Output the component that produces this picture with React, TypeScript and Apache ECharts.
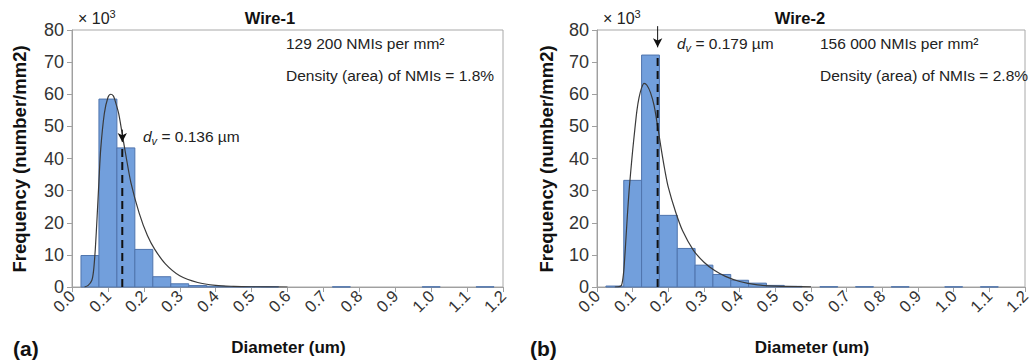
import React, { useEffect, useRef } from "react";
import * as echarts from "echarts";

const FONT = "'Liberation Sans', Arial, sans-serif";
const BIN_WIDTH = 0.05;

// Histogram bins (bin centre in µm, frequency ×10³ per mm²)
const wire1Bins = [0.05, 0.1, 0.15, 0.2, 0.25, 0.3, 0.35, 0.4, 0.45, 0.5, 0.55, 0.75, 1.0, 1.15];
const wire1Freq = [9.8, 58.5, 43.3, 11.7, 3.2, 1.0, 0.45, 0.25, 0.15, 0.1, 0.08, 0.06, 0.06, 0.06];

const wire2Bins = [0.05, 0.1, 0.15, 0.2, 0.25, 0.3, 0.35, 0.4, 0.45, 0.5, 0.55, 0.65, 0.75, 0.85, 1.0, 1.1];
const wire2Freq = [0.3, 33.2, 72.2, 22.3, 12.0, 6.8, 3.9, 2.1, 1.2, 0.5, 0.2, 0.1, 0.1, 0.08, 0.06, 0.06];

// Fitted distribution curves
const wire1FitX = [0.035, 0.045, 0.055, 0.06, 0.065, 0.07, 0.075, 0.08, 0.09, 0.1, 0.108, 0.115, 0.12, 0.13, 0.14, 0.15, 0.164, 0.187, 0.21, 0.23, 0.26, 0.3, 0.35, 0.4, 0.45, 0.5, 0.6];
const wire1FitY = [0, 0.5, 2, 5, 12, 22, 33, 43, 54, 59, 60, 59.5, 58, 54, 47.5, 41, 32.5, 23, 16, 11.8, 7.2, 3.5, 1.4, 0.5, 0.2, 0.08, 0];

const wire2FitX = [0.05, 0.065, 0.07, 0.075, 0.08, 0.085, 0.09, 0.095, 0.1, 0.106, 0.112, 0.118, 0.125, 0.132, 0.14, 0.15, 0.16, 0.17, 0.18, 0.19, 0.2, 0.22, 0.24, 0.27, 0.3, 0.33, 0.36, 0.4, 0.45, 0.5, 0.6];
const wire2FitY = [0, 0.2, 1, 5, 13, 22, 30, 36.5, 42.5, 49, 55, 59, 62, 63.4, 62.8, 60.5, 56.5, 50, 43, 36.5, 31, 23.5, 17.5, 11.5, 7.7, 5.1, 3.3, 1.7, 0.65, 0.25, 0.05];

// Mean volume diameter markers
const dvLabels = ["0.136", "0.179"];
const dvLineX = [0.14, 0.17];
const dvLineTop = [43.3, 72.2];
const dvArrowFrom = [49, 81.2];
const dvArrowHead = [45.1, 74.6];

const titles = ["Wire-1", "Wire-2"];
const countTexts = ["129 200 NMIs per mm²", "156 000 NMIs per mm²"];
const densityTexts = ["Density (area) of NMIs = 1.8%", "Density (area) of NMIs = 2.8%"];
const panelLetters = ["(a)", "(b)"];

const grids = [
  { left: 72, top: 30, width: 431, height: 257 },
  { left: 597, top: 30, width: 428, height: 257 },
];

export default function App() {
  const ref = useRef<HTMLDivElement>(null);
  useEffect(() => {
    if (!ref.current) return;
    const chart = echarts.init(ref.current, undefined, { renderer: "svg" });

    const bins = [wire1Bins, wire2Bins];
    const freqs = [wire1Freq, wire2Freq];
    const fitX = [wire1FitX, wire2FitX];
    const fitY = [wire1FitY, wire2FitY];

    const xAxes = grids.map((_, i) => ({
      type: "value",
      gridIndex: i,
      min: 0,
      max: 1.2,
      interval: 0.1,
      axisLine: { show: true, lineStyle: { color: "#a0a0a0" } },
      axisTick: { show: true, length: 5, lineStyle: { color: "#a0a0a0" } },
      splitLine: { show: false },
      axisLabel: {
        rotate: 45,
        fontSize: 16.5,
        color: "#333",
        fontFamily: FONT,
        margin: 6,
        formatter: (v: number) => v.toFixed(1),
      },
    }));
    const yAxes = grids.map((_, i) => ({
      type: "value",
      gridIndex: i,
      min: 0,
      max: 80,
      interval: 10,
      axisLine: { show: true, lineStyle: { color: "#a0a0a0" } },
      axisTick: { show: true, length: 5, lineStyle: { color: "#a0a0a0" } },
      splitLine: { show: false },
      axisLabel: { fontSize: 18, color: "#333", fontFamily: FONT, margin: 8 },
    }));

    const series: any[] = [];
    grids.forEach((_, i) => {
      series.push({
        type: "custom",
        xAxisIndex: i,
        yAxisIndex: i,
        data: bins[i].map((b, k) => [b, freqs[i][k]]),
        encode: { x: 0, y: 1 },
        renderItem: (_p: any, api: any) => {
          const x = api.value(0);
          const y = api.value(1);
          const p0 = api.coord([x - BIN_WIDTH / 2, y]);
          const p1 = api.coord([x + BIN_WIDTH / 2, 0]);
          return {
            type: "rect",
            shape: { x: p0[0], y: p0[1], width: p1[0] - p0[0], height: p1[1] - p0[1] },
            style: { fill: "#729fdc", stroke: "#4f74ad", lineWidth: 1 },
          };
        },
      });
      series.push({
        type: "line",
        xAxisIndex: i,
        yAxisIndex: i,
        data: fitX[i].map((x, k) => [x, fitY[i][k]]),
        smooth: 0.3,
        showSymbol: false,
        symbol: "none",
        lineStyle: { color: "#3a3a3a", width: 1.2 },
      });
      // dashed dv line
      series.push({
        type: "line",
        xAxisIndex: i,
        yAxisIndex: i,
        data: [
          [dvLineX[i], 0],
          [dvLineX[i], dvLineTop[i]],
        ],
        symbol: "none",
        clip: false,
        lineStyle: { color: "#111", width: 2, type: [8, 5] },
      });
      // arrow
      series.push({
        type: "line",
        xAxisIndex: i,
        yAxisIndex: i,
        clip: false,
        showSymbol: true,
        data: [
          { value: [dvLineX[i], dvArrowFrom[i]], symbol: "none" },
          { value: [dvLineX[i], dvArrowHead[i]], symbol: "arrow", symbolSize: [7, 9], symbolRotate: 180 },
        ],
        itemStyle: { color: "#111" },
        lineStyle: { color: "#111", width: 1 },
      });
    });

    const txt = (x: number, y: number, text: string, extra: any = {}) => ({
      type: "text",
      x,
      y,
      silent: true,
      style: {
        text,
        fontFamily: FONT,
        fontSize: 15.5,
        fill: "#222",
        textVerticalAlign: "middle",
        ...extra,
      },
    });

    const dvText = (x: number, y: number, val: string) => ({
      type: "text",
      x,
      y,
      silent: true,
      style: {
        text: `{d|d}{v|v}{n| = ${val} µm}`,
        fontFamily: FONT,
        fill: "#222",
        textVerticalAlign: "middle",
        rich: {
          d: { fontStyle: "italic", fontSize: 15.5, fontFamily: FONT, lineHeight: 20, verticalAlign: "middle" },
          v: { fontStyle: "italic", fontSize: 11, fontFamily: FONT, lineHeight: 10, verticalAlign: "bottom" },
          n: { fontSize: 15.5, fontFamily: FONT, lineHeight: 20, verticalAlign: "middle" },
        },
      },
    });

    const tenCubed = (x: number, y: number) => ({
      type: "text",
      x,
      y,
      silent: true,
      style: {
        text: "{b|× 10}{s|3}",
        fontFamily: FONT,
        fill: "#222",
        textVerticalAlign: "middle",
        rich: {
          b: { fontSize: 16, fontFamily: FONT, lineHeight: 20, verticalAlign: "middle" },
          s: { fontSize: 11, fontFamily: FONT, lineHeight: 11, verticalAlign: "top" },
        },
      },
    });

    const titleX = [270, 800];
    const textX = [286, 820];
    const yNameX = [19, 546];
    const letterX = [13, 530];
    const graphic: any[] = [];
    [0, 1].forEach((i) => {
      graphic.push(txt(titleX[i], 18, titles[i], { fontWeight: "bold", fontSize: 16.5, textAlign: "center", fill: "#111" }));
      graphic.push(tenCubed(grids[i].left + 6, 18));
      graphic.push(txt(textX[i], 43, countTexts[i]));
      graphic.push(txt(textX[i], 75, densityTexts[i]));
      graphic.push({
        type: "text",
        x: yNameX[i],
        y: 159,
        rotation: Math.PI / 2,
        silent: true,
        style: {
          text: "Frequency (number/mm2)",
          fontFamily: FONT,
          fontWeight: "bold",
          fontSize: 18.5,
          fill: "#111",
          textAlign: "center",
          textVerticalAlign: "middle",
        },
      });
      graphic.push(txt(grids[i].left + grids[i].width / 2 + 1, 347, "Diameter (um)", { fontWeight: "bold", fontSize: 17, textAlign: "center", fill: "#111" }));
      graphic.push(txt(letterX[i], 348, panelLetters[i], { fontWeight: "bold", fontSize: 21, fill: "#111" }));
    });
    graphic.push(dvText(143, 136, dvLabels[0]));
    graphic.push(dvText(677, 43, dvLabels[1]));

    chart.setOption({
      animation: false,
      backgroundColor: "#fff",
      textStyle: { fontFamily: FONT },
      grid: grids.map((g) => ({ ...g, show: true, borderColor: "#a8a8a8", borderWidth: 1, backgroundColor: "transparent" })),
      xAxis: xAxes,
      yAxis: yAxes,
      series,
      graphic,
    });
    return () => chart.dispose();
  }, []);

  return (
    <div
      ref={ref}
      style={{ position: "fixed", left: 0, top: 0, width: 1034, height: 362, background: "#fff" }}
    />
  );
}
